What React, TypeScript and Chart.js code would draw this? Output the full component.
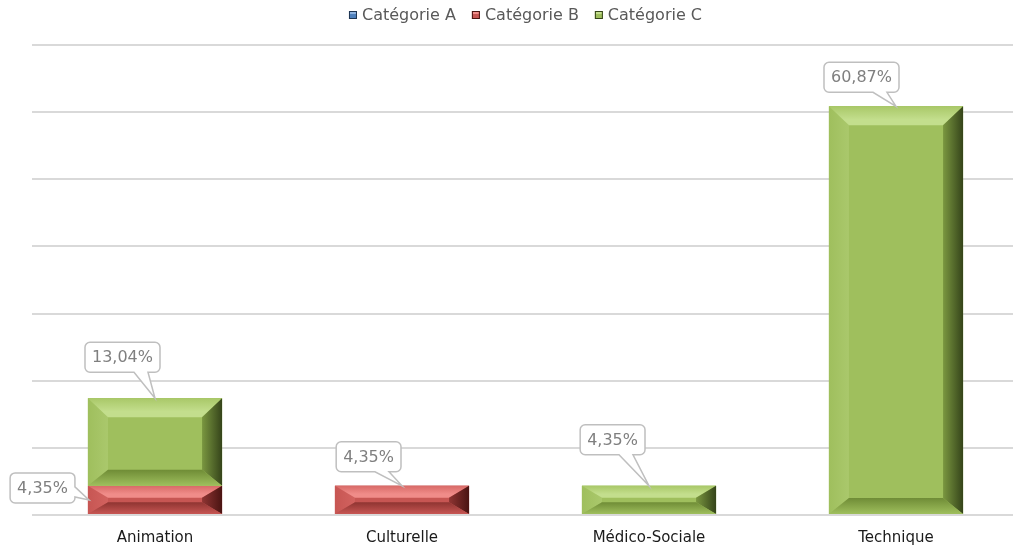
import React, { useEffect, useRef } from "react";
import { Chart, registerables } from "chart.js";

Chart.register(...registerables);

// ---------- Data ----------
const categories = ["Animation", "Culturelle", "Médico-Sociale", "Technique"];
const seriesNames = ["Catégorie A", "Catégorie B", "Catégorie C"];
const valuesA = [0, 0, 0, 0];
const valuesB = [4.35, 4.35, 0, 0];
const valuesC = [13.04, 0, 4.35, 60.87];
const yMin = 0;
const yMax = 70;
const yStep = 10;

// ---------- Styles ----------
const palette = [
  { main: "#4f81bd", topEdge: "#6a97cf", topIn: "#8fb3e0", left: "#6390c9", bottom: "#385d8a", rightIn: "#3d6696", right: "#1f3552" },
  { main: "#c75653", topEdge: "#d86a67", topIn: "#f08c89", left: "#d2625f", bottom: "#8e3431", rightIn: "#8f3533", right: "#4a1412" },
  { main: "#9fbf5d", topEdge: "#a9c868", topIn: "#c3de8d", left: "#aac86c", bottom: "#6f8c36", rightIn: "#7a9740", right: "#35441a" },
];

// callout placements keyed "datasetIndex-pointIndex" (label styling only)
const calloutPlacement: Record<string, { side: "top" | "left"; dx: number; dy: number }> = {
  "2-0": { side: "top", dx: 5, dy: -26 },
  "1-0": { side: "left", dx: -13, dy: -12 },
  "1-1": { side: "top", dx: -1, dy: -14 },
  "2-2": { side: "top", dx: -4, dy: -31 },
  "2-3": { side: "top", dx: 3, dy: -14 },
};

const FONT = "'DejaVu Sans', Verdana, sans-serif";

const fmt = (v: number) => v.toFixed(2).replace(".", ",") + "%";

const bevelPlugin = {
  id: "bevel",
  afterDatasetsDraw(chart: any) {
    const ctx = chart.ctx;
    chart.data.datasets.forEach((ds: any, di: number) => {
      const meta = chart.getDatasetMeta(di);
      const shade = palette[di];
      meta.data.forEach((bar: any, i: number) => {
        const v = ds.data[i];
        if (!v) return;
        const { x, y, base, width } = bar.getProps(["x", "y", "base", "width"], true);
        const l = x - width / 2;
        const r = x + width / 2;
        const t = Math.min(y, base);
        const b = Math.max(y, base);
        const h = b - t;
        const bx = 20;
        const byT = Math.min(19, h * 0.42);
        const byB = Math.min(16, h * 0.42);
        ctx.save();
        ctx.fillStyle = shade.main;
        ctx.fillRect(l, t, width, h);
        const poly = (pts: number[][], fill: any) => {
          ctx.beginPath();
          ctx.moveTo(pts[0][0], pts[0][1]);
          for (let k = 1; k < pts.length; k++) ctx.lineTo(pts[k][0], pts[k][1]);
          ctx.closePath();
          ctx.fillStyle = fill;
          ctx.fill();
        };
        const gL = ctx.createLinearGradient(l, 0, l + bx, 0);
        gL.addColorStop(0, shade.main);
        gL.addColorStop(1, shade.left);
        poly([[l, t], [l + bx, t + byT], [l + bx, b - byB], [l, b]], gL);
        const gTop = ctx.createLinearGradient(0, t, 0, t + byT);
        gTop.addColorStop(0, shade.topEdge);
        gTop.addColorStop(0.7, shade.topIn);
        gTop.addColorStop(1, shade.topIn);
        poly([[l, t], [r, t], [r - bx, t + byT], [l + bx, t + byT]], gTop);
        const gR = ctx.createLinearGradient(r - bx, 0, r, 0);
        gR.addColorStop(0, shade.rightIn);
        gR.addColorStop(1, shade.right);
        poly([[r, t], [r - bx, t + byT], [r - bx, b - byB], [r, b]], gR);
        const gBot = ctx.createLinearGradient(0, b - byB, 0, b);
        gBot.addColorStop(0, shade.bottom);
        gBot.addColorStop(1, shade.main);
        poly([[l, b], [r, b], [r - bx, b - byB], [l + bx, b - byB]], gBot);
        ctx.restore();
      });
    });
  },
};

function calloutPath(
  ctx: CanvasRenderingContext2D,
  l: number, t: number, w: number, h: number, rad: number,
  side: "top" | "left", a: number, bb: number, tx: number, ty: number
) {
  const rr = l + w;
  const btm = t + h;
  ctx.beginPath();
  ctx.moveTo(l + rad, t);
  ctx.lineTo(rr - rad, t);
  ctx.arcTo(rr, t, rr, t + rad, rad);
  if (side === "left") {
    ctx.lineTo(rr, a);
    ctx.lineTo(tx, ty);
    ctx.lineTo(rr, bb);
  }
  ctx.lineTo(rr, btm - rad);
  ctx.arcTo(rr, btm, rr - rad, btm, rad);
  if (side === "top") {
    ctx.lineTo(bb, btm);
    ctx.lineTo(tx, ty);
    ctx.lineTo(a, btm);
  }
  ctx.lineTo(l + rad, btm);
  ctx.arcTo(l, btm, l, btm - rad, rad);
  ctx.lineTo(l, t + rad);
  ctx.arcTo(l, t, l + rad, t, rad);
  ctx.closePath();
}

const calloutPlugin = {
  id: "callouts",
  afterDatasetsDraw(chart: any) {
    const ctx = chart.ctx;
    ctx.save();
    ctx.font = `16px ${FONT}`;
    chart.data.datasets.forEach((ds: any, di: number) => {
      const meta = chart.getDatasetMeta(di);
      meta.data.forEach((bar: any, i: number) => {
        const v = ds.data[i];
        if (!v) return;
        const place = calloutPlacement[`${di}-${i}`] || { side: "top", dx: 0, dy: -16 };
        const { x, y, base, width } = bar.getProps(["x", "y", "base", "width"], true);
        const text = fmt(v);
        const tw = ctx.measureText(text).width;
        const w = tw + 14;
        const h = 30;
        let l: number, t: number, a: number, bb: number, tx: number, ty: number;
        if (place.side === "top") {
          const right = x + place.dx;
          l = right - w;
          t = y + place.dy - h;
          a = right - 26;
          bb = right - 12;
          tx = x;
          ty = y;
        } else {
          const barLeft = x - width / 2;
          const mid = (y + base) / 2;
          const right = barLeft + place.dx;
          l = right - w;
          t = mid + place.dy - h / 2;
          a = t + h - 16;
          bb = t + h - 6;
          tx = barLeft + 1;
          ty = mid;
        }
        calloutPath(ctx, l, t, w, h, 5, place.side, a, bb, tx, ty);
        ctx.fillStyle = "#ffffff";
        ctx.fill();
        ctx.lineWidth = 1.5;
        ctx.strokeStyle = "#bfbfbf";
        ctx.stroke();
        ctx.fillStyle = "#7f7f7f";
        ctx.textAlign = "center";
        ctx.textBaseline = "middle";
        ctx.fillText(text, l + w / 2, t + h / 2 + 1);
      });
    });
    ctx.restore();
  },
};

const legendPlugin = {
  id: "customLegend",
  afterDraw(chart: any) {
    const ctx = chart.ctx;
    const area = chart.chartArea;
    ctx.save();
    ctx.font = `16px ${FONT}`;
    const box = 8;
    const gap = 5;
    const spacing = 16;
    const items = chart.data.datasets.map((ds: any) => ({ label: ds.label, w: ctx.measureText(ds.label).width }));
    const total = items.reduce((s: number, it: any) => s + box + gap + it.w, 0) + spacing * (items.length - 1);
    let cx = (area.left + area.right) / 2 - total / 2;
    const cy = 15;
    items.forEach((it: any, k: number) => {
      const sh = palette[k];
      ctx.fillStyle = sh.main;
      ctx.fillRect(cx, cy - box / 2, box, box);
      ctx.fillStyle = sh.topIn;
      ctx.fillRect(cx + 1, cy - box / 2 + 1, box - 2, 2);
      ctx.strokeStyle = sh.right;
      ctx.lineWidth = 1;
      ctx.strokeRect(cx + 0.5, cy - box / 2 + 0.5, box - 1, box - 1);
      ctx.fillStyle = "#595959";
      ctx.textAlign = "left";
      ctx.textBaseline = "middle";
      ctx.fillText(it.label, cx + box + gap, cy + 1);
      cx += box + gap + it.w + spacing;
    });
    ctx.restore();
  },
};

export default function App() {
  const ref = useRef<HTMLCanvasElement | null>(null);
  useEffect(() => {
    document.body.style.margin = "0";
    document.body.style.overflow = "hidden";
    if (!ref.current) return;
    const chart = new Chart(ref.current, {
      type: "bar",
      data: {
        labels: categories,
        datasets: [
          { label: seriesNames[0], data: valuesA, backgroundColor: palette[0].main },
          { label: seriesNames[1], data: valuesB, backgroundColor: palette[1].main },
          { label: seriesNames[2], data: valuesC, backgroundColor: palette[2].main },
        ],
      },
      options: {
        responsive: false,
        animation: false,
        layout: { padding: { left: 31.5, right: 20.5, top: 45, bottom: 4 } },
        datasets: { bar: { categoryPercentage: 1, barPercentage: 0.543 } },
        plugins: { legend: { display: false }, tooltip: { enabled: false } },
        scales: {
          x: {
            stacked: true,
            grid: { display: false, drawTicks: false },
            border: { display: false },
            ticks: { color: "#1a1a1a", font: { family: FONT, size: 15 }, padding: 14 },
          },
          y: {
            stacked: true,
            min: yMin,
            max: yMax,
            ticks: { display: false, stepSize: yStep },
            grid: { color: "#d9d9d9", lineWidth: 2, drawTicks: false },
            border: { display: false },
          },
        },
      },
      plugins: [bevelPlugin, calloutPlugin, legendPlugin],
    });
    return () => chart.destroy();
  }, []);
  return (
    <div style={{ position: "fixed", left: 0, top: 0, width: 1013, height: 550, overflow: "hidden", background: "#fff" }}>
      <canvas ref={ref} width={1040} height={565} />
    </div>
  );
}
